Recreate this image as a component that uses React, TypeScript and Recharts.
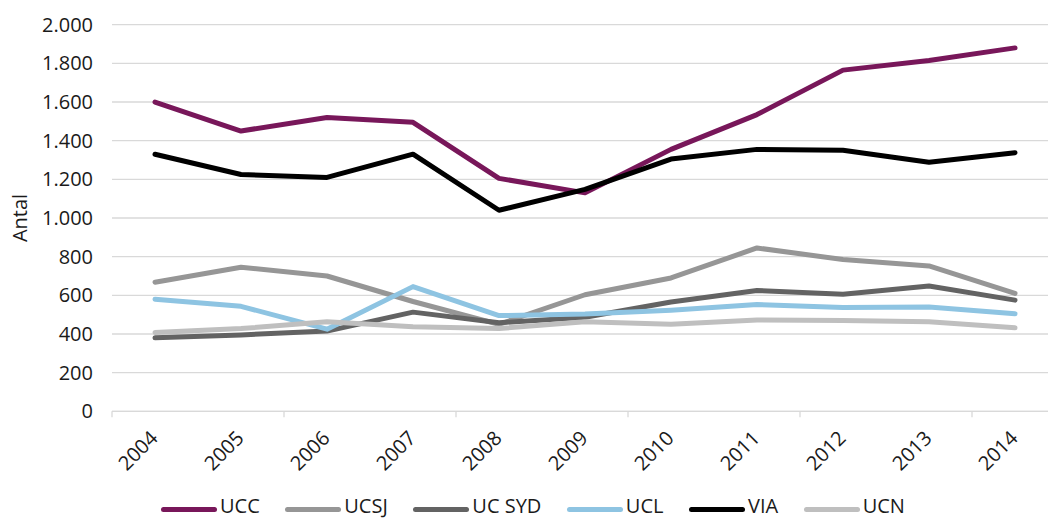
import React from 'react';
import { LineChart, Line, XAxis, YAxis, CartesianGrid } from 'recharts';

const years = ['2004', '2005', '2006', '2007', '2008', '2009', '2010', '2011', '2012', '2013', '2014'];
const ucc = [1600, 1450, 1520, 1495, 1205, 1130, 1355, 1535, 1765, 1815, 1880];
const ucsj = [668, 745, 700, 568, 450, 603, 690, 845, 785, 752, 610];
const ucsyd = [380, 395, 415, 513, 458, 487, 565, 625, 605, 648, 575];
const ucl = [580, 543, 425, 645, 495, 503, 523, 552, 537, 540, 505];
const via = [1330, 1225, 1210, 1330, 1040, 1148, 1305, 1355, 1350, 1288, 1338];
const ucn = [408, 428, 463, 438, 428, 463, 450, 472, 470, 463, 432];
const yTicks = [0, 200, 400, 600, 800, 1000, 1200, 1400, 1600, 1800, 2000];

const series = [
  { key: 'UCC', values: ucc, color: '#78175A' },
  { key: 'UCSJ', values: ucsj, color: '#969696' },
  { key: 'UC SYD', values: ucsyd, color: '#636363' },
  { key: 'UCL', values: ucl, color: '#8EC4E2' },
  { key: 'VIA', values: via, color: '#000000' },
  { key: 'UCN', values: ucn, color: '#BFBFBF' },
];

const data = years.map((year, i) => {
  const row: Record<string, any> = { year };
  series.forEach((s) => {
    row[s.key] = s.values[i];
  });
  return row;
});

const FONT = '"Open Sans", sans-serif';
const TEXT = '#1a1a1a';
const GRID = '#d9d9d9';
const HALF_STEP = 43;

const fmt = (v: number) => v.toString().replace(/\B(?=(\d{3})+(?!\d))/g, '.');

const XTick = (props: any) => {
  const { x, y, payload, index } = props;
  return (
    <g>
      {index % 2 === 0 && (
        <line x1={x - HALF_STEP} x2={x - HALF_STEP} y1={y} y2={y + 6} stroke={GRID} strokeWidth={1.3} />
      )}
      <text
        x={x + 4}
        y={y + 28}
        transform={`rotate(-45, ${x + 4}, ${y + 28})`}
        textAnchor="end"
        fill={TEXT}
        fontSize={20}
        fontFamily={FONT}
      >
        {payload.value}
      </text>
    </g>
  );
};

const YLabel = (props: any) => {
  const vb = props.viewBox || {};
  const cx = (vb.x || 0) + 19;
  const cy = (vb.y || 0) + (vb.height || 0) / 2;
  return (
    <text
      x={cx}
      y={cy}
      transform={`rotate(-90, ${cx}, ${cy})`}
      textAnchor="middle"
      dominantBaseline="central"
      fill={TEXT}
      fontSize={20}
      fontFamily={FONT}
    >
      Antal
    </text>
  );
};

export default function App() {
  return (
    <div style={{ position: 'absolute', left: 0, top: 0, width: 1048, height: 519, overflow: 'hidden', background: '#fff' }}>
      <LineChart
        width={1070}
        height={519}
        data={data}
        margin={{ top: 24.7, right: 12, left: 0, bottom: 0 }}
      >
        <CartesianGrid vertical={false} stroke={GRID} strokeWidth={1.3} />
        <XAxis
          dataKey="year"
          interval={0}
          padding={{ left: HALF_STEP, right: HALF_STEP }}
          height={107.7}
          axisLine={{ stroke: GRID, strokeWidth: 1.3 }}
          tickLine={false}
          tickSize={0}
          tickMargin={0}
          tick={<XTick />}
        />
        <YAxis
          width={112}
          domain={[0, 2000]}
          ticks={yTicks}
          interval={0}
          axisLine={false}
          tickLine={false}
          tickSize={0}
          tickMargin={19}
          tickFormatter={fmt}
          tick={{ fill: TEXT, fontSize: 20, fontFamily: FONT }}
          label={<YLabel />}
        />
        {series.map((s) => (
          <Line
            key={s.key}
            type="linear"
            dataKey={s.key}
            stroke={s.color}
            strokeWidth={5}
            strokeLinecap="round"
            strokeLinejoin="round"
            dot={false}
            activeDot={false}
            isAnimationActive={false}
          />
        ))}
      </LineChart>
      <div
        style={{
          position: 'absolute',
          left: 161,
          top: 492,
          height: 27,
          display: 'flex',
          alignItems: 'flex-start',
          fontFamily: FONT,
          fontSize: 20,
          color: TEXT,
          lineHeight: '27px',
          whiteSpace: 'nowrap',
        }}
      >
        {series.map((s) => (
          <div key={s.key} style={{ display: 'flex', alignItems: 'flex-start', marginRight: 25.5, height: 27 }}>
            <span
              style={{
                display: 'inline-block',
                width: 56,
                height: 5,
                borderRadius: 3,
                background: s.color,
                marginRight: 3,
                marginTop: 15,
              }}
            />
            <span style={{ display: 'inline-block', height: 27, lineHeight: '27px' }}>{s.key}</span>
          </div>
        ))}
      </div>
    </div>
  );
}
